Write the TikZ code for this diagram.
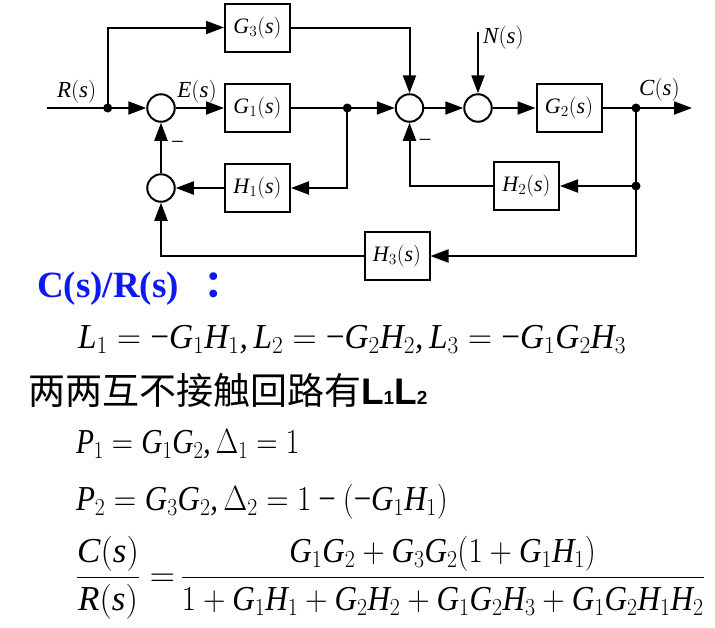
\documentclass[tikz,border=0pt]{standalone}
\usepackage{fix-cm}
\usepackage{amsmath}
\usepackage{fontspec}
\setmainfont{Liberation Serif}
\newfontfamily\cjkfont{Noto Sans CJK SC}
\newfontfamily\arialfont{Liberation Sans}
% Times-artige Formeln
\DeclareSymbolFont{letters}{TU}{\rmdefault}{m}{it}
\DeclareSymbolFont{operators}{TU}{\rmdefault}{m}{n}
\mathcode`,="612C
\Umathcode`-="2 "0 "2212
\Umathchardef\Delta="0 "0 "394
\usetikzlibrary{arrows.meta}
\usetikzlibrary{positioning, calc}
\definecolor{titleblue}{rgb}{0.05,0.1,0.95}

\begin{document}
\begin{tikzpicture}[x=1pt, y=-1pt, line width=2pt, >={Triangle[length=18pt,width=13pt]},
    block/.style={draw, minimum width=65pt, minimum height=48pt, inner sep=0pt, font=\fontsize{22}{24}\selectfont},
    summer/.style={draw, circle, minimum size=27.5pt, inner sep=0pt},
    signal/.style={inner sep=0pt, font=\fontsize{23}{24}\selectfont},
    eqn/.style={anchor=base west, inner sep=0pt, font=\fontsize{35}{40}\selectfont}]

    \useasboundingbox (0,0) rectangle (715,627);

    % Summierstellen
    \node[summer] (sum1) at (161,108) {};
    \node[summer] (sum2) at (409.5,108) {};
    \node[summer] (sum3) at (478,108) {};
    \node[summer] (sum4) at (161,188) {};

    % Bloecke
    \node[block] (G3) at (257.5,27.5) {$G_3(s)$};
    \node[block] (G1) at (257.5,108) {$G_1(s)$};
    \node[block] (H1) at (257.5,188) {$H_1(s)$};
    \node[block] (G2) at (569,108) {$G_2(s)$};
    \node[block] (H2) at (526.5,186) {$H_2(s)$};
    \node[block] (H3) at (397,256) {$H_3(s)$};

    % Verzweigungspunkte und Enden
    \coordinate (in) at (47,108);
    \coordinate (br1) at (107.7,108);
    \coordinate (br2) at (347.3,108);
    \coordinate (br3) at (636,108);
    \coordinate (br4) at (636,186);
    \coordinate (nin) at (478,31.7);
    \coordinate (out) at (692,108);
    \foreach \p in {br1, br2, br3, br4} {
        \fill (\p) circle (4.5pt);
    }

    % Vorwaertszweige
    \draw[->] (in) -- (sum1);
    \draw[->] (br1) |- (G3);
    \draw[->] (sum1) -- (G1);
    \draw (G1) -- (br2);
    \draw[->] (br2) -- (sum2);
    \draw[->] (G3) -| (sum2);
    \draw[->] (sum2) -- (sum3);
    \draw[->] (nin) -- (sum3);
    \draw[->] (sum3) -- (G2);
    \draw (G2) -- (br3);
    \draw[->] (br3) -- (out);

    % Rueckfuehrungen
    \draw[->] (br2) |- (H1);
    \draw[->] (H1) -- (sum4);
    \draw[->] (sum4) -- (sum1);
    \draw (br3) -- (br4);
    \draw[->] (br4) -- (H2);
    \draw[->] (H2) -| (sum2);
    \draw[->] (br4) |- (H3);
    \draw[->] (H3) -| (sum4);

    % Signalnamen und Vorzeichen
    \node[signal] (rlabel) at (76.7,91.7) {$R(s)$};
    \node[signal] (elabel) at (197,91.7) {$E(s)$};
    \node[signal] (nlabel) at (503.5,37.7) {$N(s)$};
    \node[signal] (clabel) at (659.5,90) {$C(s)$};
    \node[signal] (minus1) at (177.5,145) {$-$};
    \node[signal] (minus2) at (425,143) {$-$};

    % Rechnung
    \node[eqn, text=titleblue, font=\fontsize{37}{40}\selectfont\bfseries] (title) at (36,297) {C(s)/R(s)\hspace{26pt}{\cjkfont ：}};
    \node[eqn] (loops) at (77,348) {\scalebox{0.953}[1]{$L_1=-G_1H_1,L_2=-G_2H_2,L_3=-G_1G_2H_3$}};
    \node[eqn, font=\fontsize{37}{40}\selectfont] (touch) at (27,404) {{\cjkfont 两两互不接触回路有}{\arialfont\bfseries L{\fontsize{19}{19}\selectfont 1}L{\fontsize{19}{19}\selectfont 2}}};
    \node[eqn] (path1) at (75,453) {\scalebox{0.84}[1]{$P_1=G_1G_2,\Delta_1=1$}};
    \node[eqn] (path2) at (75,510) {\scalebox{0.886}[1]{$P_2=G_3G_2,\Delta_2=1-(-G_1H_1)$}};
    \node[eqn] (gain) at (75,586) {$\dfrac{C(s)}{R(s)}={}$\hspace{-4pt}\scalebox{0.89}[1]{$\dfrac{G_1G_2+G_3G_2(1+G_1H_1)}{1+G_1H_1+G_2H_2+G_1G_2H_3+G_1G_2H_1H_2}$}};

\end{tikzpicture}
\end{document}
